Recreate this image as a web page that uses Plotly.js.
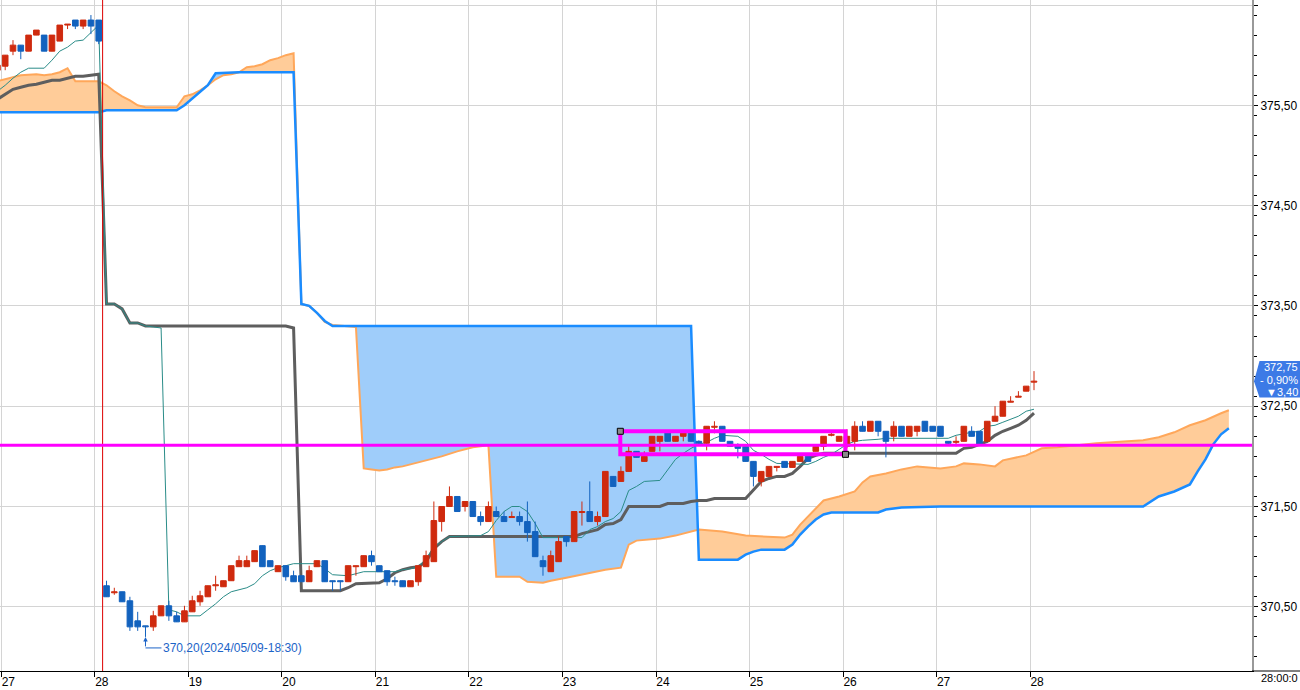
<!DOCTYPE html>
<html>
<head>
<meta charset="utf-8">
<script src="https://cdn.plot.ly/plotly-3.0.1.min.js"></script>
<style>html,body{margin:0;padding:0;background:#fff;}#chart{width:1300px;height:690px;}</style>
</head>
<body>
<div id="chart"></div>
<script>
// ---- candle data (bar -1 .. 132) ----
const openP = [
 375.85,
 375.89,376.04,376.10,376.04,376.20,376.20,376.04,376.14,376.30,376.35,
 376.29,376.35,376.35,370.71,370.64,370.65,370.56,370.36,370.31,370.30,
 370.41,370.51,370.41,370.35,370.45,370.55,370.60,370.71,370.70,370.76,
 370.90,370.90,370.95,371.11,370.96,370.85,370.91,370.81,370.81,370.75,
 370.90,370.96,370.76,370.76,370.75,370.90,370.90,371.01,370.91,370.86,
 370.76,370.76,370.70,370.75,370.90,370.95,371.35,371.50,371.60,371.50,
 371.55,371.40,371.35,371.45,371.40,371.39,371.40,371.35,371.25,370.96,
 370.85,370.95,371.20,371.15,371.44,371.45,371.35,371.40,371.80,371.75,
 371.85,372.05,371.95,372.05,372.15,372.25,372.15,372.20,372.25,372.15,
 372.13,372.29,372.30,372.15,372.11,372.10,371.95,371.75,371.80,371.89,
 371.95,371.89,371.95,372.00,372.05,372.10,372.21,372.15,372.10,372.15,
 372.30,372.25,372.35,372.25,372.20,372.30,372.20,372.25,372.35,372.30,
 372.30,372.15,372.14,372.15,372.25,372.25,372.15,372.35,372.40,372.54,
 372.59,372.65,372.74
];
const highP = [
 375.92,
 376.00,376.15,376.10,376.20,376.25,376.20,376.20,376.30,376.31,376.35,
 376.35,376.40,376.35,370.76,370.69,370.65,370.60,370.45,370.31,370.46,
 370.51,370.56,370.45,370.51,370.61,370.66,370.71,370.81,370.76,370.91,
 371.01,371.01,371.06,371.11,370.96,370.91,370.91,370.86,370.81,370.91,
 370.96,370.96,370.76,370.76,370.91,370.91,371.01,371.06,370.91,370.86,
 370.80,370.76,370.76,370.91,371.06,371.55,371.50,371.70,371.60,371.55,
 371.55,371.45,371.55,371.50,371.45,371.45,371.45,371.55,371.35,371.01,
 371.06,371.20,371.20,371.45,371.55,371.75,371.45,371.85,371.80,371.90,
 372.10,372.05,372.05,372.20,372.20,372.25,372.20,372.25,372.25,372.16,
 372.30,372.35,372.30,372.15,372.13,372.10,371.95,371.85,371.90,371.90,
 371.95,371.95,372.00,372.00,372.10,372.20,372.25,372.20,372.27,372.35,
 372.35,372.35,372.35,372.25,372.35,372.30,372.30,372.30,372.35,372.30,
 372.30,372.15,372.20,372.30,372.30,372.25,372.35,372.50,372.55,372.60,
 372.65,372.70,372.85
];
const lowP = [
 375.80,
 375.85,376.00,375.96,376.04,376.20,376.04,376.04,376.14,376.26,376.26,
 376.26,376.21,376.11,370.60,370.62,370.55,370.26,370.26,370.20,370.26,
 370.41,370.36,370.35,370.35,370.45,370.51,370.60,370.66,370.70,370.76,
 370.90,370.90,370.95,370.90,370.90,370.85,370.76,370.75,370.75,370.75,
 370.90,370.75,370.66,370.66,370.75,370.81,370.90,370.91,370.85,370.71,
 370.71,370.70,370.70,370.71,370.90,370.95,371.25,371.50,371.45,371.45,
 371.40,371.31,371.35,371.40,371.35,371.39,371.31,371.15,371.00,370.81,
 370.85,370.95,371.10,371.15,371.31,371.35,371.31,371.40,371.70,371.75,
 371.85,371.99,371.95,372.05,372.05,372.15,372.15,372.15,372.15,372.12,
 372.06,372.23,372.15,372.10,371.98,371.95,371.70,371.70,371.80,371.85,
 371.89,371.89,371.95,371.95,372.05,372.06,372.20,372.15,372.08,372.06,
 372.25,372.25,372.20,371.99,372.15,372.20,372.20,372.20,372.25,372.25,
 372.20,372.12,372.10,372.15,372.20,372.12,372.15,372.35,372.40,372.54,
 372.59,372.65,372.66
];
const closeP = [
 375.90,
 376.00,376.10,376.04,376.20,376.25,376.04,376.20,376.30,376.31,376.29,
 376.35,376.29,376.14,370.60,370.65,370.55,370.30,370.30,370.30,370.41,
 370.51,370.41,370.35,370.46,370.56,370.61,370.71,370.72,370.76,370.91,
 370.96,370.96,371.06,370.90,370.90,370.91,370.80,370.75,370.75,370.86,
 370.96,370.75,370.75,370.75,370.91,370.91,371.01,370.95,370.85,370.75,
 370.75,370.70,370.76,370.91,371.01,371.36,371.50,371.60,371.45,371.55,
 371.40,371.35,371.50,371.40,371.35,371.40,371.35,371.24,371.00,370.90,
 371.01,371.15,371.15,371.45,371.45,371.35,371.40,371.85,371.70,371.85,
 372.05,371.99,372.00,372.20,372.20,372.15,372.20,372.25,372.15,372.13,
 372.30,372.30,372.15,372.10,372.08,371.95,371.80,371.85,371.90,371.90,
 371.89,371.95,372.00,371.95,372.10,372.20,372.22,372.20,372.20,372.30,
 372.25,372.35,372.25,372.15,372.30,372.20,372.30,372.30,372.25,372.25,
 372.20,372.13,372.15,372.30,372.20,372.12,372.35,372.40,372.55,372.55,
 372.60,372.70,372.75
];

// ---- indicator lines: [bar, value] ----
const tenkan = [[-1,375.64],[0,375.70],[1,375.77],[2,375.83],[3,375.87],[5,375.87],[6,375.95],[7,376.04],[8,376.08],[9,376.14],[10,376.15],[11,376.22],[12,376.30],
 [13,373.52],[14,373.52],[15,373.47],[16,373.33],[17,373.33],[18,373.30],[19,373.29],[20,373.28],
 [21,370.47],[22,370.45],[23,370.41],[25,370.41],[26,370.47],[27,370.53],[28,370.60],[29,370.65],[30,370.67],[31,370.69],[32,370.73],[33,370.81],[34,370.86],[35,370.89],[36,370.91],[37,370.93],[40,370.93],[41,370.88],[42,370.82],[44,370.81],[45,370.83],[46,370.85],[50,370.85],[51,370.87],[52,370.88],[53,370.90],[54,370.98],[55,371.10],[56,371.15],[57,371.20],[61,371.21],[62,371.25],[63,371.36],[64,371.45],[65,371.50],[66,371.50],[67,371.45],[68,371.33],[69,371.19],[74,371.19],[75,371.27],[76,371.30],[77,371.35],[78,371.38],[79,371.45],[80,371.66],[81,371.70],[82,371.75],[84,371.76],[85,371.86],[86,371.97],[87,372.03],[88,372.08],[89,372.12],[90,372.14],[91,372.18],[92,372.21],[94,372.20],[95,372.15],[96,372.06],[97,372.02],[98,371.97],[99,371.93],[103,371.92],[104,371.95],[105,371.99],[106,372.02],[107,372.07],[108,372.12],[109,372.15],[110,372.16],[112,372.17],[113,372.18],[121,372.18],[122,372.21],[124,372.24],[125,372.25],[126,372.30],[127,372.31],[128,372.34],[129,372.37],[130,372.40],[131,372.45],[132,372.47]];

const kijun = [[-1,375.56],[0,375.61],[1,375.66],[2,375.68],[3,375.70],[4,375.71],[6,375.75],[7,375.75],[8,375.77],[9,375.79],[10,375.79],[12,375.81],
 [13,373.52],[14,373.52],[15,373.47],[16,373.33],[17,373.33],[18,373.30],[36,373.30],[37,373.28],
 [38,370.66],[43,370.66],[44,370.69],[45,370.73],[48,370.74],[49,370.78],[50,370.84],[51,370.87],[52,370.89],[53,370.90],[54,370.95],[55,371.08],[56,371.15],[57,371.20],[73,371.20],[74,371.23],[76,371.27],[77,371.32],[78,371.33],[79,371.37],[80,371.50],[84,371.50],[85,371.53],[87,371.53],[88,371.55],[89,371.56],[90,371.56],[91,371.58],[95,371.58],[96,371.66],[97,371.75],[98,371.78],[99,371.80],[100,371.80],[101,371.83],[102,371.90],[103,371.98],[104,372.01],[105,372.03],[122,372.03],[123,372.08],[124,372.09],[125,372.12],[126,372.15],[127,372.21],[128,372.25],[129,372.28],[130,372.31],[131,372.36],[132,372.43]];

const spanA = [[-1,375.74],[0,375.76],[1,375.78],[2,375.80],[4,375.81],[5,375.80],[6,375.81],[7,375.83],[8,375.87],[9,375.74],[12,375.74],[13,375.70],[14,375.64],[15,375.59],[16,375.55],[17,375.50],[18,375.48],[22,375.48],[23,375.59],[24,375.61],[25,375.65],[26,375.70],[27,375.76],[28,375.80],[29,375.81],[30,375.83],[31,375.88],[32,375.89],[33,375.91],[34,375.95],[35,375.97],[36,376.00],[37,376.02],
 [38,373.52],[39,373.50],[40,373.43],[41,373.34],[42,373.31],[45,373.29],[46,371.88],[47,371.87],[48,371.86],[49,371.87],[50,371.89],[51,371.90],[52,371.92],[53,371.94],[55,371.98],[56,372.00],[58,372.05],[60,372.09],[62,372.11],
 [63,370.80],[66,370.80],[67,370.75],[69,370.74],[70,370.76],[72,370.79],[74,370.82],[75,370.84],[77,370.87],[79,370.89],[80,371.12],[81,371.16],[84,371.18],[86,371.21],[88,371.25],[89,371.27],[92,371.25],[95,371.21],[100,371.19],[101,371.22],[102,371.32],[103,371.40],[104,371.48],[105,371.56],[107,371.60],[109,371.65],[110,371.74],[111,371.80],[113,371.83],[115,371.87],[117,371.90],[120,371.88],[122,371.90],[123,371.93],[125,371.92],[127,371.90],[128,371.96],[130,371.99],[131,372.01],[133,372.08],[135,372.09],[140,372.13],[146,372.16],[148,372.19],[150,372.24],[152,372.31],[154,372.36],[156,372.43],[157,372.46]];

const spanB = [[-1,375.43],[12,375.43],[13,375.45],[22,375.45],[23,375.50],[24,375.57],[25,375.64],[26,375.70],[27,375.82],[30,375.83],[37,375.83],
 [38,373.52],[39,373.50],[40,373.43],[41,373.35],[42,373.30],[45,373.30],[88,373.30],
 [89,370.97],[94,370.97],[95,371.02],[96,371.05],[97,371.07],[100,371.07],[101,371.12],[102,371.22],[103,371.30],[104,371.37],[105,371.42],[106,371.44],[112,371.44],[113,371.47],[115,371.49],[120,371.50],[146,371.50],[147,371.55],[148,371.60],[150,371.65],[152,371.72],[153,371.85],[154,371.97],[155,372.12],[156,372.22],[157,372.28]];

// bar ranges where span B is above span A (blue cloud)
const blueCloudRanges = [[26, 30], [45, 89]];

// ---- axis labels ----
const dayBounds = [-0.5, 11.5, 23.5, 35.5, 47.5, 59.5, 71.5, 83.5, 95.5, 107.5, 119.5, 131.5];
const dayLabels = ['27','28','19','20','21','22','23','24','25','26','27','28'];
const cornerTimeLabel = '28:00:0';

// ---- marks / annotations values ----
const rolloverBar = 12.5;
const magentaLevel = 372.11;
const boxRange = {x0: 78.92, x1: 107.81, y0: 372.02, y1: 372.25};
const lowPoint = {bar: 18, price: 370.20, label: '370,20(2024/05/09-18:30)'};
const lastTag = {price: 372.75, lines: ['372,75', '- 0,90%', '▼3,40']};

// ---------------------------------------------------------------
const bars = openP.map((_, i) => i - 1);
const X = p => p.map(d => d[0]);
const Y = p => p.map(d => d[1]);
const within = (p, a, b) => p.filter(d => d[0] >= a && d[0] <= b);

const plotW = 1252;
const px = v => v / plotW;

const base = {mode: 'lines', hoverinfo: 'skip', showlegend: false};
const clear = {width: 0, color: 'rgba(0,0,0,0)'};
const traces = [];
traces.push(Object.assign({}, base, {x: X(spanB), y: Y(spanB), line: clear}));
traces.push(Object.assign({}, base, {x: X(spanA), y: Y(spanA), line: clear, fill: 'tonexty', fillcolor: '#ffcc99'}));
blueCloudRanges.forEach(([a, b]) => {
  const sa = within(spanA, a, b), sb = within(spanB, a, b);
  traces.push(Object.assign({}, base, {x: X(sa), y: Y(sa), line: clear}));
  traces.push(Object.assign({}, base, {x: X(sb), y: Y(sb), line: clear, fill: 'tonexty', fillcolor: '#9fcdfa'}));
});
traces.push(Object.assign({}, base, {x: X(spanA), y: Y(spanA), line: {width: 2, color: '#ffa75a'}}));
traces.push(Object.assign({}, base, {x: X(spanB), y: Y(spanB), line: {width: 2.5, color: '#1a8cff'}}));
traces.push(Object.assign({}, base, {x: X(kijun), y: Y(kijun), line: {width: 3, color: '#5e5e5e'}}));
traces.push(Object.assign({}, base, {x: X(tenkan), y: Y(tenkan), line: {width: 1, color: '#2a8c88'}}));

// candles drawn as scatter shapes so they sit above the cloud fills
const halfBody = 0.36;
function candleTraces(isUp, color) {
  const wx = [], wy = [], bx = [], by = [];
  bars.forEach((k, i) => {
    const o = openP[i], c = closeP[i];
    if ((c > o) !== isUp) return;
    wx.push(k, k, null); wy.push(lowP[i], highP[i], null);
    const lo = Math.min(o, c), hi = Math.max(o, c);
    bx.push(k - halfBody, k + halfBody, k + halfBody, k - halfBody, k - halfBody, null);
    by.push(lo, lo, hi, hi, lo, null);
  });
  return [
    Object.assign({}, base, {x: wx, y: wy, line: {width: 1, color: color}}),
    Object.assign({}, base, {x: bx, y: by, fill: 'toself', fillcolor: color, line: {width: 1, color: color}})
  ];
}
traces.push(...candleTraces(true, '#cf2a0e'));
traces.push(...candleTraces(false, '#1262be'));

const blueTxt = '#1c64c8';
const shapes = [
  {type: 'line', layer: 'above', xref: 'x', yref: 'paper', x0: rolloverBar, x1: rolloverBar, y0: 0, y1: 1, line: {color: '#dd0000', width: 1}},
  {type: 'line', layer: 'above', xref: 'paper', yref: 'y', x0: 0, x1: 1, y0: magentaLevel, y1: magentaLevel, line: {color: '#ff00ff', width: 3}},
  {type: 'rect', layer: 'above', xref: 'x', yref: 'y', x0: boxRange.x0, x1: boxRange.x1, y0: boxRange.y0, y1: boxRange.y1, line: {color: '#ff00ff', width: 4}},
  {type: 'rect', layer: 'above', xref: 'x', yref: 'y', xsizemode: 'pixel', ysizemode: 'pixel', xanchor: boxRange.x0, yanchor: boxRange.y1, x0: -3, x1: 3, y0: -3, y1: 3, fillcolor: '#8a8a8a', line: {color: '#000', width: 1}},
  {type: 'rect', layer: 'above', xref: 'x', yref: 'y', xsizemode: 'pixel', ysizemode: 'pixel', xanchor: boxRange.x1, yanchor: boxRange.y0, x0: -3, x1: 3, y0: -3, y1: 3, fillcolor: '#8a8a8a', line: {color: '#000', width: 1}},
  {type: 'line', layer: 'above', xref: 'x', yref: 'y', x0: lowPoint.bar, x1: lowPoint.bar + 2.05, y0: 370.09, y1: 370.09, line: {color: blueTxt, width: 1}},
  {type: 'path', layer: 'above', xref: 'paper', yref: 'y',
   path: `M ${px(1254)},${lastTag.price} L ${px(1259.5)},372.952 L ${px(1300)},372.952 L ${px(1300)},372.588 L ${px(1259.5)},372.588 Z`,
   fillcolor: '#3c7ae6', line: {width: 0}},
  {type: 'line', layer: 'above', xref: 'paper', yref: 'paper', x0: 1, x1: px(1300), y0: 0, y1: 0, line: {color: '#000', width: 1}}
];

const tagFont = {color: '#fff', size: 11, family: 'Liberation Sans, Arial, sans-serif'};
const annotations = [
  {x: lowPoint.bar, y: lowPoint.price, xref: 'x', yref: 'y', ax: lowPoint.bar, ay: 370.09, axref: 'x', ayref: 'y',
   text: '', showarrow: true, arrowhead: 2, arrowsize: 0.9, arrowwidth: 1, arrowcolor: blueTxt, standoff: 0},
  {x: lowPoint.bar + 1.97, y: 370.09, xref: 'x', yref: 'y', xanchor: 'left', yanchor: 'middle', showarrow: false,
   text: lowPoint.label, font: {color: blueTxt, size: 12}},
  {x: px(1300), y: 372.894, xref: 'paper', yref: 'y', xanchor: 'right', yanchor: 'middle', showarrow: false, text: lastTag.lines[0], font: tagFont},
  {x: px(1300), y: 372.757, xref: 'paper', yref: 'y', xanchor: 'right', yanchor: 'middle', showarrow: false, text: lastTag.lines[1], font: tagFont},
  {x: px(1300), y: 372.637, xref: 'paper', yref: 'y', xanchor: 'right', yanchor: 'middle', showarrow: false, text: lastTag.lines[2], font: tagFont},
  {x: px(1300), y: 0, xref: 'paper', yref: 'paper', xanchor: 'right', yanchor: 'top', yshift: 1, showarrow: false, text: cornerTimeLabel, font: {color: '#000', size: 11}}
];

const layout = {
  width: 1300, height: 690,
  margin: {l: 0, r: 48, t: 0, b: 19, pad: 0},
  paper_bgcolor: '#fff', plot_bgcolor: '#fff',
  showlegend: false, hovermode: false, dragmode: false,
  separators: ',.',
  font: {family: 'Liberation Sans, Arial, sans-serif', size: 12, color: '#000'},
  xaxis: {
    range: [-0.667, 159.97], tickmode: 'array', tickvals: dayBounds, ticktext: dayLabels,
    ticks: 'outside', ticklen: 5, tickcolor: '#000', showline: true, linecolor: '#000', linewidth: 1,
    showgrid: true, gridcolor: '#d4d4d4', gridwidth: 1, zeroline: false,
    ticklabelshift: 7, ticklabelstandoff: -5, fixedrange: true
  },
  yaxis: {
    side: 'right', range: [369.86, 376.55], tickmode: 'linear', tick0: 0.5, dtick: 1, tickformat: '.2f',
    ticks: 'outside', ticklen: 4, tickcolor: '#000', showline: true, linecolor: '#999', linewidth: 2,
    showgrid: true, gridcolor: '#d4d4d4', gridwidth: 1, zeroline: false, fixedrange: true,
    minor: {tick0: 0, dtick: 0.2, ticks: 'outside', ticklen: 3, tickcolor: '#000', showgrid: false}
  },
  shapes: shapes,
  annotations: annotations
};

Plotly.newPlot('chart', traces, layout, {displayModeBar: false, staticPlot: true});
</script>
</body>
</html>
